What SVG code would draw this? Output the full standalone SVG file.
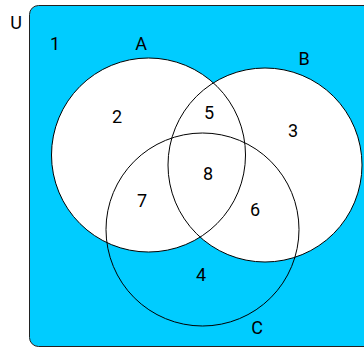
<svg xmlns="http://www.w3.org/2000/svg" width="364" height="349" viewBox="0 0 364 349">
<style>
.lbl{font-family:Roboto,"Liberation Sans",sans-serif;font-size:18px;fill:#000;text-anchor:middle}
.ring{fill:none;stroke:#000;stroke-width:1}
.fillw{fill:#fff;stroke:none}
</style>
<g id="universe">
<rect x="29.5" y="5.5" width="350" height="341" rx="9" ry="9" fill="#00ccff" stroke="#222" stroke-width="1"/>
<text class="lbl" x="16" y="28.5">U</text>
<text class="lbl" x="55" y="49.5">1</text>
</g>
<g id="fills">
<circle class="fillw" cx="148.5" cy="155" r="97"/>
<circle class="fillw" cx="265" cy="165" r="97"/>
</g>
<g id="setA">
<circle class="ring" cx="148.5" cy="155" r="97"/>
<text class="lbl" x="141" y="49.5">A</text>
</g>
<g id="setB">
<circle class="ring" cx="265" cy="165" r="97"/>
<text class="lbl" x="304" y="64.5">B</text>
</g>
<g id="setC">
<circle class="ring" cx="202.5" cy="229.5" r="96.5"/>
<text class="lbl" x="257" y="333.5">C</text>
</g>
<g id="regions">
<text class="lbl" x="117" y="123">2</text>
<text class="lbl" x="293" y="136.5">3</text>
<text class="lbl" x="201" y="280.5">4</text>
<text class="lbl" x="209" y="118.5">5</text>
<text class="lbl" x="255" y="215.5">6</text>
<text class="lbl" x="142" y="206.5">7</text>
<text class="lbl" x="208" y="179.5">8</text>
</g>
</svg>
